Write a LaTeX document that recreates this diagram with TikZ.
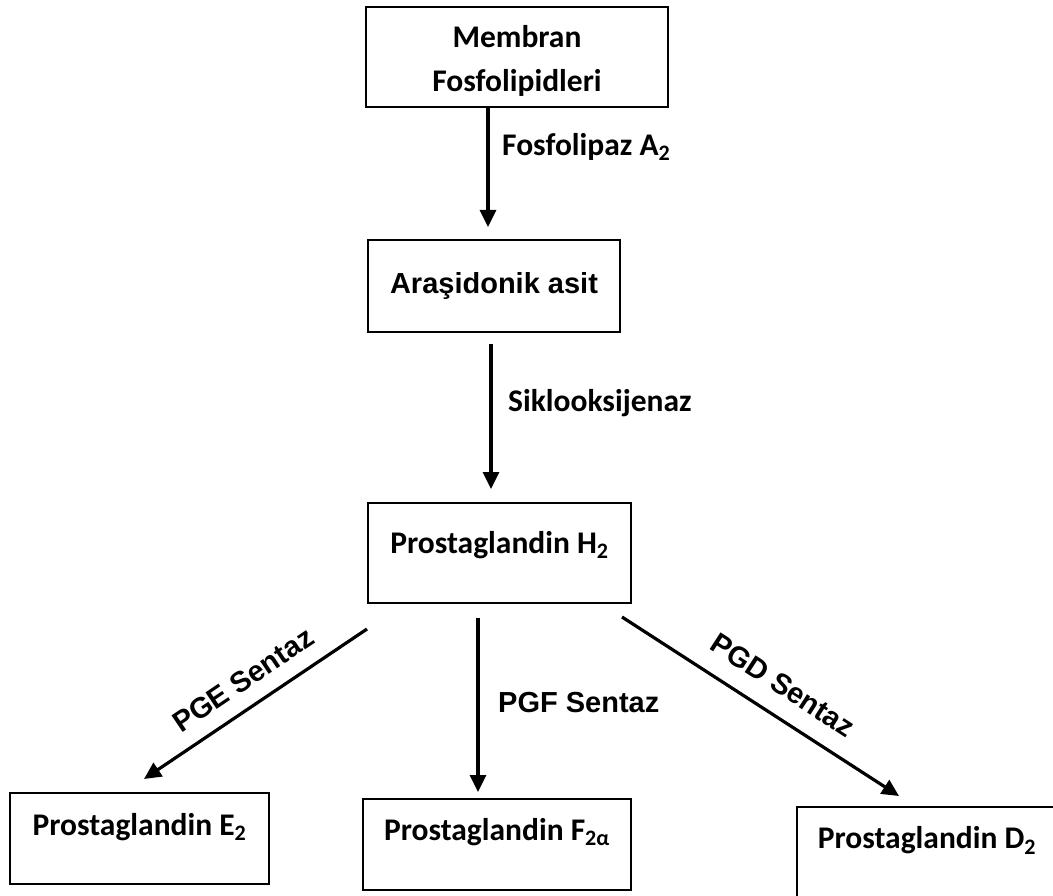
\documentclass[tikz,border=0pt]{standalone}
\usepackage{fontspec}
\setmainfont{Carlito}
\newfontfamily\arialfont{Liberation Sans}
\usetikzlibrary{arrows.meta,calc}

\begin{document}
\begin{tikzpicture}[x=1pt,y=-1pt,
    box/.style={draw,line width=2pt,inner sep=0pt,align=center,
      font=\fontsize{31.5}{44}\selectfont\bfseries},
    topbox/.style={box,text height=20pt,text depth=#1},
    arr/.style={-{Triangle[length=17pt,width=16pt]},line width=3.2pt},
    enzyme/.style={inner sep=0pt,font=\fontsize{31.5}{35}\selectfont\bfseries},
    enzymeb/.style={inner sep=0pt,font=\arialfont\fontsize{29}{35}\selectfont\bfseries}]
    \useasboundingbox (0,0) rectangle (1053,896);

    % Draw the boxes
    \node[box,minimum width=302,minimum height=100] (membran) at (517,57) {\rule{0pt}{30pt}Membran\\Fosfolipidleri};
    \node[box,font=\arialfont\fontsize{29}{35}\selectfont\bfseries,
      minimum width=252,minimum height=92] (aras) at (494,286) {Araşidonik asit};
    \node[topbox=20,minimum width=263,minimum height=100] (h2) at (499.5,553) {Prostaglandin H\textsubscript{2}};

    \foreach \name/\x/\y/\w/\dep/\sub in {e2/139.5/838.5/259/27/E\textsubscript{2},
        f2/497/844.5/268/29/F\textsubscript{2α},d2/927/852.5/260/28/D\textsubscript{2}}
    \node[topbox=\dep,minimum width=\w,minimum height=91] (\name) at (\x,\y) {Prostaglandin \sub};

    % Draw the arrows
    \draw[arr] ($(membran.south)+(-29,0)$) -- ($(aras.north)+(-6,-12)$);
    \draw[arr] ($(aras.south)+(-3,11)$) -- ($(h2.north)+(-8.5,-13)$);
    \draw[arr] ($(h2.south west)+(0,25)$) -- ($(e2.north)+(4.5,-13)$);
    \draw[arr] ($(h2.south)+(-21.5,14)$) -- ($(f2.north)+(-19,-6)$);
    \draw[arr] ($(h2.south east)+(-10,13)$) -- ($(d2.north west)+(103,-10)$);

    % Add the enzyme labels
    \node[enzyme,anchor=west] (fla2) at (502,147) {Fosfolipaz A\textsubscript{2}};
    \node[enzyme,anchor=west] (cox) at (508,403) {Siklooksijenaz};
    \node[enzymeb,anchor=west] (pgf) at (498,703) {PGF Sentaz};
    \node[enzymeb,rotate=34] (pge) at (243,680) {PGE Sentaz};
    \node[enzymeb,rotate=-33] (pgd) at (783,685) {PGD Sentaz};
  \end{tikzpicture}
\end{document}
